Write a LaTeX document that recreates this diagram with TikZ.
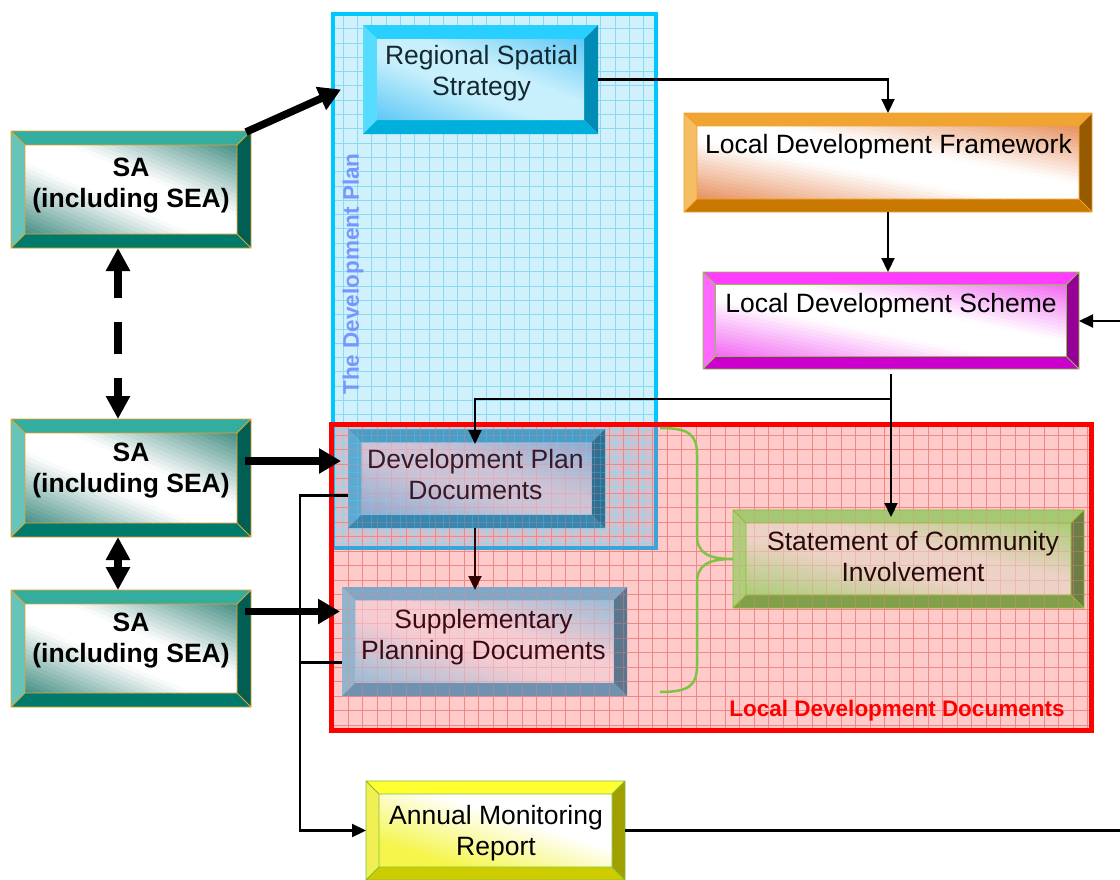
\documentclass[tikz,border=0pt]{standalone}
\usepackage{fontspec}
\setmainfont{Liberation Sans}
\usetikzlibrary{arrows.meta}
% containers
\definecolor{cyanfill}{RGB}{208,241,251}
\definecolor{cyangrid}{RGB}{135,218,242}
\definecolor{cyanborder}{RGB}{0,200,255}
\definecolor{cyanborderlow}{RGB}{60,165,215}
\definecolor{pinkfill}{RGB}{255,202,202}
\definecolor{pinkgrid}{RGB}{242,135,135}
\definecolor{overlapfill}{RGB}{210,192,206}
\definecolor{dpcol}{RGB}{120,150,255}
\definecolor{bracegreen}{RGB}{125,195,70}
\definecolor{maroon}{RGB}{50,0,0}
% SA
\definecolor{satop}{RGB}{52,172,158}
\definecolor{saleft}{RGB}{102,196,186}
\definecolor{saright}{RGB}{0,95,82}
\definecolor{sabot}{RGB}{0,122,106}
\definecolor{sain}{RGB}{70,142,132}
\definecolor{saline}{RGB}{235,160,40}
% RSS
\definecolor{rstop}{RGB}{40,208,255}
\definecolor{rsleft}{RGB}{85,220,255}
\definecolor{rsright}{RGB}{0,140,180}
\definecolor{rsbot}{RGB}{0,175,220}
\definecolor{rsin}{RGB}{95,200,245}
\definecolor{rsmid}{RGB}{200,240,252}
\definecolor{rstext}{RGB}{20,40,50}
% LDF
\definecolor{lftop}{RGB}{240,165,50}
\definecolor{lfleft}{RGB}{245,190,100}
\definecolor{lfright}{RGB}{150,90,0}
\definecolor{lfbot}{RGB}{200,120,0}
\definecolor{lfin}{RGB}{232,145,95}
\definecolor{lfline}{RGB}{240,160,40}
% LDS
\definecolor{lstop}{RGB}{255,60,255}
\definecolor{lsleft}{RGB}{255,105,255}
\definecolor{lsright}{RGB}{150,0,150}
\definecolor{lsbot}{RGB}{204,0,204}
\definecolor{lsin}{RGB}{242,105,242}
\definecolor{lsline}{RGB}{130,200,60}
% DPD
\definecolor{dptop}{RGB}{72,158,200}
\definecolor{dpleft}{RGB}{90,170,210}
\definecolor{dpright}{RGB}{45,112,148}
\definecolor{dpbot}{RGB}{56,135,176}
\definecolor{dpin}{RGB}{140,172,210}
\definecolor{dpmid}{RGB}{208,194,212}
\definecolor{dptext}{RGB}{55,25,40}
% SPD
\definecolor{sptop}{RGB}{128,168,198}
\definecolor{spleft}{RGB}{146,180,205}
\definecolor{spright}{RGB}{92,118,142}
\definecolor{spbot}{RGB}{110,146,176}
\definecolor{spin}{RGB}{155,188,215}
\definecolor{spmid}{RGB}{245,204,210}
\definecolor{sptext}{RGB}{60,10,20}
% SCI
\definecolor{sctop}{RGB}{165,200,115}
\definecolor{scleft}{RGB}{175,206,125}
\definecolor{scright}{RGB}{110,125,70}
\definecolor{scbot}{RGB}{130,160,75}
\definecolor{scin}{RGB}{170,205,120}
\definecolor{scmid}{RGB}{236,210,198}
\definecolor{scline}{RGB}{140,190,40}
\definecolor{sctext}{RGB}{40,10,10}
% AMR
\definecolor{amtop}{RGB}{255,255,50}
\definecolor{amleft}{RGB}{240,240,85}
\definecolor{amright}{RGB}{160,160,0}
\definecolor{ambot}{RGB}{204,204,0}
\definecolor{amin}{RGB}{245,245,75}
\definecolor{amline}{RGB}{130,190,50}

% gradient profiles: \shs in [0,1] from bottom-left to top-right corner -> \shp (percent of corner colour)
\newcommand\shprofsym{\pgfmathsetmacro\shp{max(0,(abs(\shs-0.5)-0.1)/0.4*100)}}
\newcommand\shprofone{\pgfmathsetmacro\shp{max(0,min(100,(0.62-\shs)/0.45*100))}}
\let\shprof\shprofsym

% #1 node, #2 bevel, #3 top, #4 left, #5 right, #6 bottom, #7 outline, #8 corner colour, #9 middle colour
\newcommand\bevelbox[9]{%
  \fill[#3] (#1.north west) -- (#1.north east) -- ([shift={(-#2,-#2)}]#1.north east) -- ([shift={(#2,-#2)}]#1.north west) -- cycle;
  \fill[#4] (#1.north west) -- ([shift={(#2,-#2)}]#1.north west) -- ([shift={(#2,#2)}]#1.south west) -- (#1.south west) -- cycle;
  \fill[#5] (#1.north east) -- (#1.south east) -- ([shift={(-#2,#2)}]#1.south east) -- ([shift={(-#2,-#2)}]#1.north east) -- cycle;
  \fill[#6] (#1.south west) -- ([shift={(#2,#2)}]#1.south west) -- ([shift={(-#2,#2)}]#1.south east) -- (#1.south east) -- cycle;
  \pgfpointdiff{\pgfpointanchor{#1}{south west}}{\pgfpointanchor{#1}{north east}}%
  \pgfgetlastxy{\bw}{\bh}%
  \begin{scope}[shift={([shift={(#2,#2)}]#1.south west)}, x={(\bw-2*#2,0pt)}, y={(0pt,\bh-2*#2)}]
    \clip (0,0) rectangle (1,1);
    \foreach \k in {0,...,39}{%
      \pgfmathsetmacro\sha{\k/20}%
      \pgfmathsetmacro\shb{(\k+1.15)/20}%
      \pgfmathsetmacro\shs{(\k+0.5)/40}%
      \shprof
      \fill[fill={#8!\shp!#9}] (\sha,0) -- (\shb,0) -- (\shb-1,1) -- (\sha-1,1) -- cycle;
    }
  \end{scope}
  \draw[line width=0.8pt, #7] (#1.north west) rectangle (#1.south east)
    ([shift={(#2,-#2)}]#1.north west) rectangle ([shift={(-#2,#2)}]#1.south east)
    (#1.north west) -- ([shift={(#2,-#2)}]#1.north west)
    (#1.north east) -- ([shift={(-#2,-#2)}]#1.north east)
    (#1.south west) -- ([shift={(#2,#2)}]#1.south west)
    (#1.south east) -- ([shift={(-#2,#2)}]#1.south east);
}

\begin{document}
\begin{tikzpicture}[x=1pt,y=-1pt,
  box/.style={inner sep=0pt, outer sep=0pt, draw=none},
  lbl/.style={anchor=base, align=center, inner sep=0pt, font=\fontsize{26.5}{31}\selectfont},
  lblb/.style={lbl, font=\bfseries\fontsize{26.5}{31}\selectfont},
  conn/.style={line width=2.2pt, draw=black},
  tarrow/.style={conn, -{Triangle[length=14pt,width=13pt]}},
  bigarrow/.style={line width=7.5pt, -{Triangle[length=22pt,width=24pt]}},
  vbig/.style={line width=8pt, {Triangle[length=23pt,width=23pt]}-{Triangle[length=23pt,width=23pt]}},
  cgrid/.style={cyangrid, line width=0.7pt, step=14.3pt},
  pgrid/.style={pinkgrid, line width=0.7pt, step=14.5pt}
]
\useasboundingbox (0,0) rectangle (1120,879);

% ---------- containers ----------
\fill[cyanfill] (333,14) rectangle (656,548);
\fill[pinkfill] (331,424) rectangle (1091,730);
\fill[overlapfill] (333,424) rectangle (656,548);
\draw[cgrid] (333,548) grid (656,14);
\draw[pgrid] (331,730) grid (1091,424);
\draw[cyanborder, line width=4.5pt] (333,14) rectangle (656,548);
\draw[cyanborderlow, line width=4.5pt] (656,426) -- (656,548) -- (333,548);
\draw[red, line width=5pt] (331,424) rectangle (1091,730);

\node[rotate=90, text=dpcol, inner sep=0pt, font=\bfseries\fontsize{22.5}{26}\selectfont] (dptitle) at (353,274) {The Development Plan};
\node[anchor=base, text=red, inner sep=0pt, font=\bfseries\fontsize{22.5}{26}\selectfont] (lddtitle) at (897,716) {Local Development Documents};

% ---------- SA boxes ----------
\node[box, minimum width=240pt, minimum height=117pt] (sa1) at (131,189.5) {};
\bevelbox{sa1}{14pt}{satop}{saleft}{saright}{sabot}{saline}{sain}{white}
\node[lblb] (sa1-l) at (131,207) {SA\\(including SEA)};

\node[box, minimum width=240pt, minimum height=118pt] (sa2) at (131,478) {};
\bevelbox{sa2}{14pt}{satop}{saleft}{saright}{sabot}{saline}{sain}{white}
\node[lblb] (sa2-l) at (131,492) {SA\\(including SEA)};

\node[box, minimum width=240pt, minimum height=117pt] (sa3) at (131,648.5) {};
\bevelbox{sa3}{14pt}{satop}{saleft}{saright}{sabot}{saline}{sain}{white}
\node[lblb] (sa3-l) at (131,662) {SA\\(including SEA)};

% ---------- RSS ----------
\node[box, minimum width=235pt, minimum height=109pt] (rss) at (480.5,79.5) {};
\bevelbox{rss}{14pt}{rstop}{rsleft}{rsright}{rsbot}{draw=none}{rsin}{rsmid}
\node[lbl, text=rstext] (rss-l) at (481.5,95) {Regional Spatial\\Strategy};

% ---------- LDF ----------
\node[box, minimum width=408pt, minimum height=99pt] (ldf) at (888,162.5) {};
\bevelbox{ldf}{13pt}{lftop}{lfleft}{lfright}{lfbot}{lfline}{lfin}{white}
\node[lbl] (ldf-l) at (888.5,153) {Local Development Framework};

% ---------- LDS ----------
\node[box, minimum width=376pt, minimum height=97pt] (lds) at (891,320.5) {};
\bevelbox{lds}{12.5pt}{lstop}{lsleft}{lsright}{lsbot}{lsline}{lsin}{white}
\node[lbl] (lds-l) at (891,312) {Local Development Scheme};

% ---------- DPD ----------
\node[box, minimum width=257pt, minimum height=99pt] (dpd) at (476.5,478.5) {};
\bevelbox{dpd}{13.5pt}{dptop}{dpleft}{dpright}{dpbot}{draw=none}{dpin}{dpmid}
\begin{scope}
  \clip (dpd.south west) rectangle (dpd.north east);
  \draw[cgrid, opacity=0.22] (333,548) grid (656,14);
  \draw[pgrid, opacity=0.28] (331,730) grid (1091,424);
\end{scope}
\node[lbl, text=dptext] (dpd-l) at (475.5,499) {Development Plan\\Documents};

% ---------- SPD ----------
\node[box, minimum width=285pt, minimum height=109pt] (spd) at (484.5,641.5) {};
\bevelbox{spd}{13.5pt}{sptop}{spleft}{spright}{spbot}{draw=none}{spin}{spmid}
\begin{scope}
  \clip (spd.south west) rectangle (spd.north east);
  \draw[pgrid, opacity=0.35] (331,730) grid (1091,424);
\end{scope}
\node[lbl, text=sptext] (spd-l) at (483.5,659) {Supplementary\\Planning Documents};

% ---------- SCI ----------
\node[box, minimum width=351pt, minimum height=98pt] (sci) at (908.5,559) {};
\bevelbox{sci}{13pt}{sctop}{scleft}{scright}{scbot}{scline}{scin}{scmid}
\begin{scope}
  \clip (sci.south west) rectangle (sci.north east);
  \draw[pgrid, opacity=0.35] (331,730) grid (1091,424);
\end{scope}
\node[lbl, text=sctext] (sci-l) at (913,581) {Statement of Community\\Involvement};

% ---------- AMR ----------
\node[box, minimum width=259pt, minimum height=99pt] (amr) at (495.5,830.5) {};
\let\shprof\shprofone
\bevelbox{amr}{13pt}{amtop}{amleft}{amright}{ambot}{amline}{amin}{white}
\let\shprof\shprofsym
\node[lbl] (amr-l) at (496,855) {Annual Monitoring\\Report};

% ---------- brace ----------
\draw[bracegreen, line width=2.5pt] (660,428) .. controls (690,428) and (697,435) .. (697,455) -- (697,535)
  .. controls (697,553) and (708,559) .. (sci.west)
  .. controls (708,559) and (697,565) .. (697,583) -- (697,665)
  .. controls (697,685) and (690,692) .. (660,692);

% ---------- thick SA arrows ----------
\draw[bigarrow] ([xshift=-5pt,yshift=-1pt]sa1.north east) -- ([xshift=-22pt,yshift=-10pt]rss.west);
\draw[vbig, dash pattern=on 28pt off 24pt on 32pt off 24pt] ([xshift=-13pt]sa1.south) -- ([xshift=-13pt]sa2.north);
\draw[vbig] ([xshift=-13pt]sa2.south) -- ([xshift=-13pt]sa3.north);
\coordinate (s2) at ([xshift=-6pt,yshift=17pt]sa2.east);
\draw[bigarrow, shorten >=7pt] (s2) -- (s2 -| dpd.west);
\coordinate (s3) at ([xshift=-6pt,yshift=37pt]sa3.east);
\draw[bigarrow, shorten >=2pt] (s3) -- (s3 -| spd.west);

% ---------- thin connectors ----------
\draw[tarrow] (rss.east) -| (ldf.north);
\draw[tarrow] (ldf.south) -- (ldf.south |- lds.north);
\coordinate (j) at ([yshift=-30pt]lds.south);
\draw[conn] ([yshift=-5pt]lds.south) -- (j);
\coordinate (dtop) at ([xshift=-1.5pt,yshift=-15pt]dpd.north);
\draw[tarrow] (j) -| (dtop);
\coordinate (scitop) at ([yshift=-7pt]sci.north);
\draw[tarrow] (j) -- (j |- scitop);
\coordinate (stop) at ([yshift=-3pt]spd.north);
\draw[tarrow, draw=maroon] ([xshift=-1.5pt]dpd.south) -- ([xshift=-1.5pt]dpd.south |- stop);
\coordinate (d1) at ([yshift=-17pt]dpd.west);
\draw[tarrow] (d1) -- ++(-48pt,0pt) |- (amr.west);
\coordinate (p1) at ([yshift=-21pt]spd.west);
\draw[conn] (p1) -- ++(-42pt,0pt);
\coordinate (amrout) at (1120,830.5);
\draw[conn] (amr.east) -- (amrout);
\coordinate (ldsin) at (1120,321);
\draw[tarrow] (ldsin) -- (ldsin -| lds.east);
\end{tikzpicture}
\end{document}
